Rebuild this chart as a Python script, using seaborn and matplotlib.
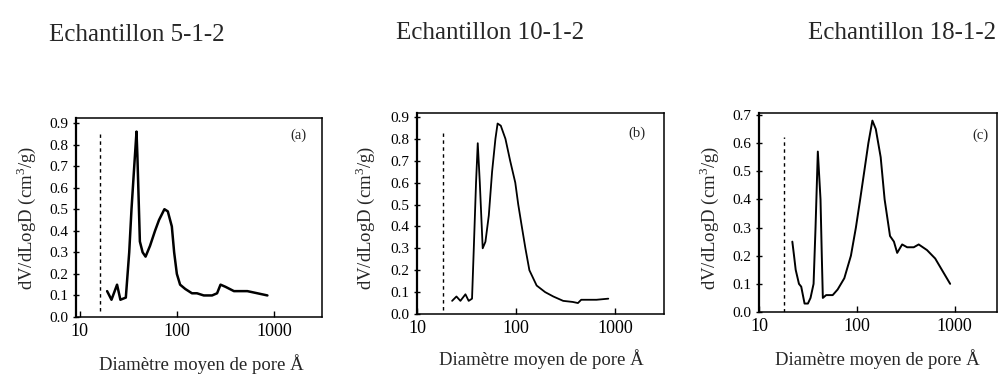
import numpy as np
import pandas as pd
import matplotlib
matplotlib.use("Agg")
import matplotlib.pyplot as plt
import seaborn as sns
from matplotlib.ticker import FixedLocator, FixedFormatter, FormatStrFormatter

# ---------------- data ----------------
titles = ["Echantillon 5-1-2", "Echantillon 10-1-2", "Echantillon 18-1-2"]
panel_tags = ["(a)", "(b)", "(c)"]

d_a = [19.2, 21.3, 24.3, 26.3, 29.9, 32.4, 34.2, 36.5, 38.5, 39.3, 41.7, 44.5, 47.7,
       53, 59.7, 65.6, 74.5, 80.7, 88.8, 93.8, 100, 108, 122, 143, 161, 189, 230,
       259, 281, 316, 386, 530, 673, 852]
v_a = [0.12, 0.08, 0.15, 0.08, 0.09, 0.30, 0.50, 0.70, 0.86, 0.75, 0.35, 0.30, 0.28,
       0.33, 0.40, 0.45, 0.50, 0.49, 0.42, 0.30, 0.20, 0.15, 0.13, 0.11, 0.11, 0.10, 0.10,
       0.11, 0.15, 0.14, 0.12, 0.12, 0.11, 0.10]

d_b = [22.6, 25, 27.4, 30.8, 33.2, 35.9, 37.4, 39.4, 41, 43, 46, 49, 53, 57.2, 61.8,
       65, 70, 78, 87, 98, 105, 114, 124, 136, 161, 196, 237, 298, 373, 420, 453, 646, 850]
v_b = [0.06, 0.08, 0.06, 0.09, 0.06, 0.07, 0.30, 0.60, 0.78, 0.60, 0.30, 0.33, 0.45, 0.65, 0.80,
       0.87, 0.86, 0.80, 0.70, 0.60, 0.50, 0.40, 0.30, 0.20, 0.13, 0.10, 0.08, 0.06, 0.055, 0.05,
       0.065, 0.065, 0.07]

d_c = [21.9, 22.8, 23.7, 25.6, 27, 29.2, 31.6, 33.6, 36.1, 37.8, 39.9, 42.5, 43.8, 44.9,
       48.5, 56.6, 63.6, 74.4, 86.9, 97.7, 108, 119, 131, 144, 156, 175, 192, 218, 239,
       258, 290, 326, 381, 428, 520, 631, 767, 897]
v_c = [0.25, 0.20, 0.15, 0.10, 0.09, 0.03, 0.03, 0.05, 0.10, 0.30, 0.57, 0.40, 0.20, 0.05,
       0.06, 0.06, 0.08, 0.12, 0.20, 0.30, 0.40, 0.50, 0.60, 0.68, 0.65, 0.55, 0.40, 0.27, 0.25,
       0.21, 0.24, 0.23, 0.23, 0.24, 0.22, 0.19, 0.14, 0.10]

dashed_x = [16.1, 18.3, 17.9]

x_ticks = [10, 100, 1000]
x_tick_labels = ["10", "100", "1000"]
y_ticks_ab = [0.0, 0.1, 0.2, 0.3, 0.4, 0.5, 0.6, 0.7, 0.8, 0.9]
y_ticks_c = [0.0, 0.1, 0.2, 0.3, 0.4, 0.5, 0.6, 0.7]

y_label = "dV/dLogD (cm$^3$/g)"
x_label = "Diamètre moyen de pore Å"

# ---------------- style ----------------
sns.set_style("ticks")
plt.rcParams["font.family"] = ["Liberation Serif", "DejaVu Serif"]
plt.rcParams["mathtext.fontset"] = "custom"
plt.rcParams["mathtext.rm"] = "Liberation Serif"

W, H = 999, 374
fig = plt.figure(figsize=(W / 100, H / 100), dpi=100)

# pixel boxes (left, right, top, bottom)
boxes = [(76, 322, 118, 317), (417, 664, 113, 314), (759, 997, 113, 312)]
ylims = [(0, 0.923), (0, 0.918), (0, 0.707)]
xlims = [(9.2, 3100), (10, 3100), (10, 2700)]
yticks_all = [y_ticks_ab, y_ticks_ab, y_ticks_c]
series = [(d_a, v_a), (d_b, v_b), (d_c, v_c)]
lws = [1.8, 1.3, 1.4]
dash_span = [(0.03, 0.92), (0.02, 0.9), (0.0, 0.88)]

# (x, y, horizontal alignment)
title_pos = [(137, 35, "center"), (490, 33, "center"), (996, 33, "right")]
xlabel_pos = [(201, 364), (541, 359), (877, 359)]
ylabel_pos = [(26, 218), (365, 218), (709, 218)]
tag_pos = [(298, 135), (637, 133), (980, 135)]

for i in range(3):
    l, r, t, b = boxes[i]
    ax = fig.add_axes([l / W, 1 - b / H, (r - l) / W, (b - t) / H])
    d, v = series[i]
    df = pd.DataFrame({"D": d, "V": v})
    sns.lineplot(data=df, x="D", y="V", ax=ax, color="black", lw=lws[i],
                 estimator=None, sort=False)
    ax.set_xscale("log")
    ax.set_xlim(*xlims[i])
    ax.set_ylim(*ylims[i])
    ax.axvline(dashed_x[i], ymin=dash_span[i][0], ymax=dash_span[i][1],
               color="black", lw=1.0, ls=(0, (2.5, 2.5)))
    ax.xaxis.set_major_locator(FixedLocator(x_ticks))
    ax.xaxis.set_major_formatter(FixedFormatter(x_tick_labels))
    ax.xaxis.set_minor_locator(FixedLocator([]))
    ax.set_yticks(yticks_all[i])
    ax.yaxis.set_major_formatter(FormatStrFormatter("%.1f"))
    ax.tick_params(axis="y", direction="inout", length=5, width=1.0,
                   labelsize=11, pad=3, color="black", labelcolor="black")
    ax.tick_params(axis="x", direction="in", length=4, width=1.0, pad=4,
                   labelsize=13, color="black", labelcolor="black")
    for s in ax.spines.values():
        s.set_visible(True)
        s.set_color("black")
        s.set_linewidth(1.1)
    ax.spines["left"].set_linewidth(1.6)
    ax.set_xlabel("")
    ax.set_ylabel("")
    ax.text(tag_pos[i][0] / W, 1 - tag_pos[i][1] / H, panel_tags[i],
            transform=fig.transFigure, ha="center", va="center", fontsize=10.5)

    tx, ty, tha = title_pos[i]
    fig.text(tx / W, 1 - ty / H, titles[i], ha=tha, va="center", fontsize=18)
    fig.text(xlabel_pos[i][0] / W, 1 - xlabel_pos[i][1] / H, x_label,
             ha="center", va="center", fontsize=13.5)
    fig.text(ylabel_pos[i][0] / W, 1 - ylabel_pos[i][1] / H, y_label,
             ha="center", va="center", rotation=90, fontsize=13.5)

fig.savefig("out.png", dpi=100, facecolor="white")
